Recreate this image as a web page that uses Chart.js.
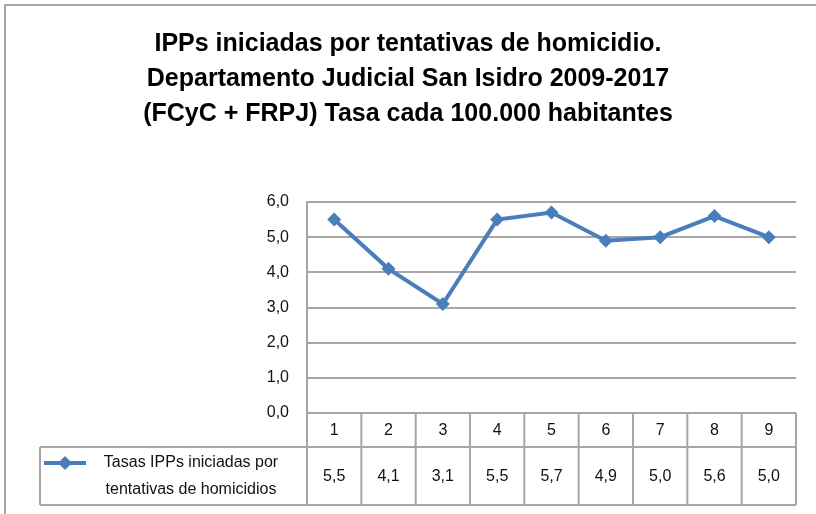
<!DOCTYPE html>
<html>
<head>
<meta charset="utf-8">
<title>IPPs iniciadas por tentativas de homicidio</title>
<script src="https://cdn.jsdelivr.net/npm/chart.js@4.4.0/dist/chart.umd.min.js"></script>
<style>
  html, body { margin: 0; padding: 0; background: #fff; }
  #wrap { width: 816px; height: 514px; }
</style>
</head>
<body>
<div id="wrap"><canvas id="chart" width="816" height="514"></canvas></div>
<script>
const titleLines = [
  'IPPs iniciadas por tentativas de homicidio.',
  'Departamento Judicial San Isidro 2009-2017',
  '(FCyC + FRPJ) Tasa cada 100.000 habitantes'
];
const categories = ['1', '2', '3', '4', '5', '6', '7', '8', '9'];
const seriesName = ['Tasas IPPs iniciadas por', 'tentativas de homicidios'];
const tasas = [5.5, 4.1, 3.1, 5.5, 5.7, 4.9, 5.0, 5.6, 5.0];
const yMin = 0;
const yMax = 6;
const yStep = 1;

const FONT = "'Liberation Sans', Arial, sans-serif";
const BLUE = '#4a7ebb';
const GRID = '#a6a6a6';

function fmt1(v) {
  return v.toFixed(1).replace('.', ',');
}

// outer frame of the chart object
const framePlugin = {
  id: 'frame',
  beforeDraw(chart) {
    const ctx = chart.ctx;
    ctx.save();
    ctx.fillStyle = '#fff';
    ctx.fillRect(0, 0, chart.width, chart.height);
    ctx.strokeStyle = GRID;
    ctx.lineWidth = 2;
    ctx.strokeRect(5, 5, chart.width + 20, chart.height + 20);
    ctx.restore();
  }
};

// data table under the plot: category row, value row and legend cell
const dataTablePlugin = {
  id: 'dataTable',
  afterDraw(chart) {
    const ctx = chart.ctx;
    const x = chart.scales.x;
    const area = chart.chartArea;
    const colW = (area.right - area.left) / categories.length;
    const top = area.bottom;
    const mid = top + 34;
    const bottom = 505;
    const tableLeft = 40;

    ctx.save();
    ctx.strokeStyle = GRID;
    ctx.lineWidth = 2;
    ctx.beginPath();
    ctx.moveTo(area.left, top); ctx.lineTo(area.right, top);
    ctx.moveTo(tableLeft, mid); ctx.lineTo(area.right, mid);
    ctx.moveTo(tableLeft, bottom); ctx.lineTo(area.right, bottom);
    ctx.moveTo(tableLeft, mid); ctx.lineTo(tableLeft, bottom);
    for (let i = 0; i <= categories.length; i++) {
      const px = area.left + i * colW;
      ctx.moveTo(px, top); ctx.lineTo(px, bottom);
    }
    ctx.stroke();

    ctx.fillStyle = '#111';
    ctx.font = '16px ' + FONT;
    ctx.textAlign = 'center';
    ctx.textBaseline = 'middle';
    categories.forEach((c, i) => {
      const px = x.getPixelForValue(i);
      ctx.fillText(c, px, (top + mid) / 2 + 1);
      ctx.fillText(fmt1(tasas[i]), px, (mid + bottom) / 2 + 1);
    });

    // legend key
    const ky = mid + 16;
    ctx.strokeStyle = BLUE;
    ctx.lineWidth = 4;
    ctx.beginPath();
    ctx.moveTo(44, ky); ctx.lineTo(86, ky);
    ctx.stroke();
    ctx.fillStyle = BLUE;
    ctx.beginPath();
    ctx.moveTo(65, ky - 7); ctx.lineTo(72, ky); ctx.lineTo(65, ky + 7); ctx.lineTo(58, ky);
    ctx.closePath();
    ctx.fill();

    ctx.fillStyle = '#111';
    ctx.font = '16px ' + FONT;
    seriesName.forEach((s, i) => {
      ctx.fillText(s, 191, ky + i * 27);
    });
    ctx.restore();
  }
};

new Chart(document.getElementById('chart'), {
  type: 'line',
  data: {
    labels: categories,
    datasets: [{
      label: seriesName.join(' '),
      data: tasas,
      borderColor: BLUE,
      backgroundColor: BLUE,
      borderWidth: 4,
      pointStyle: 'rectRot',
      pointRadius: 7,
      pointBorderWidth: 0,
      tension: 0
    }]
  },
  options: {
    responsive: false,
    animation: false,
    devicePixelRatio: 1,
    layout: { padding: { left: 20, right: 20, top: 0, bottom: 101 } },
    plugins: {
      legend: { display: false },
      tooltip: { enabled: false },
      title: {
        display: true,
        text: titleLines,
        color: '#000',
        font: { family: FONT, size: 25, weight: 'bold', lineHeight: 1.4 },
        padding: { top: 27, bottom: 70 }
      }
    },
    scales: {
      x: {
        display: false,
        offset: true
      },
      y: {
        min: yMin,
        max: yMax,
        afterFit(scale) { scale.width = 287; },
        ticks: {
          stepSize: yStep,
          padding: 18,
          color: '#111',
          font: { family: FONT, size: 16 },
          callback: v => fmt1(v)
        },
        grid: { color: GRID, lineWidth: 2, drawTicks: false },
        border: { display: true, color: GRID, width: 2 }
      }
    }
  },
  plugins: [framePlugin, dataTablePlugin]
});
</script>
</body>
</html>
